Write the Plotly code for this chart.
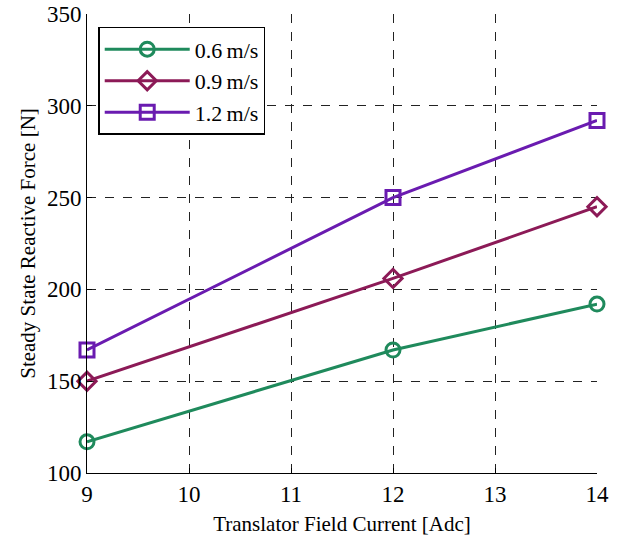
import plotly.graph_objects as go

# Translator field current [Adc]
current = [9, 12, 14]

# Steady state reactive force [N] per translator speed
force_06 = [117, 167, 192]
force_09 = [150, 206, 245]
force_12 = [167, 250, 292]

series = [
    ("0.6\u2009m/s", force_06, "#1f8a5c", "circle-open"),
    ("0.9\u2009m/s", force_09, "#8c1a57", "diamond-open"),
    ("1.2\u2009m/s", force_12, "#6a1bb0", "square-open"),
]

x_ticks = [9, 10, 11, 12, 13, 14]
y_ticks = [100, 150, 200, 250, 300, 350]

fig = go.Figure()
for name, vals, color, symbol in series:
    fig.add_trace(go.Scatter(
        x=current, y=vals, name=name, mode="lines+markers",
        line=dict(color=color, width=3),
        marker=dict(symbol=symbol, size=14, color=color,
                    line=dict(color=color, width=3)),
        cliponaxis=False,
    ))

family = "Liberation Serif, Times New Roman, serif"
title_font = dict(family=family, size=21, color="black")
tick_font = dict(family=family, size=23, color="black")

fig.update_layout(
    width=618, height=542,
    margin=dict(l=87, r=21, t=14, b=69, autoexpand=False),
    paper_bgcolor="white", plot_bgcolor="white",
    font=title_font,
    showlegend=True,
    legend=dict(
        x=0.022, y=0.972, xanchor="left", yanchor="top",
        bordercolor="black", borderwidth=1.5, bgcolor="white",
        font=dict(family=family, size=22, color="black"),
        tracegroupgap=0, itemwidth=85,
    ),
)

fig.update_xaxes(
    range=[9, 14], tickvals=x_ticks, ticktext=[str(v) for v in x_ticks],
    showgrid=True, gridcolor="#222", griddash="dash", gridwidth=1,
    zeroline=False, showline=True, linecolor="black", linewidth=1,
    ticks="inside", ticklen=5, tickcolor="black",
    tickfont=tick_font, automargin=False,
    title=dict(text="Translator Field Current [Adc]", font=title_font, standoff=10),
)
fig.update_yaxes(
    range=[100, 350], tickvals=y_ticks, ticktext=[str(v) for v in y_ticks],
    showgrid=True, gridcolor="#222", griddash="dash", gridwidth=1,
    zeroline=False, showline=True, linecolor="black", linewidth=1,
    ticks="inside", ticklen=5, tickcolor="black",
    tickfont=tick_font, automargin=False,
    title=dict(text="Steady State Reactive Force [N]", font=title_font, standoff=5),
)

fig.write_html("out.html")
